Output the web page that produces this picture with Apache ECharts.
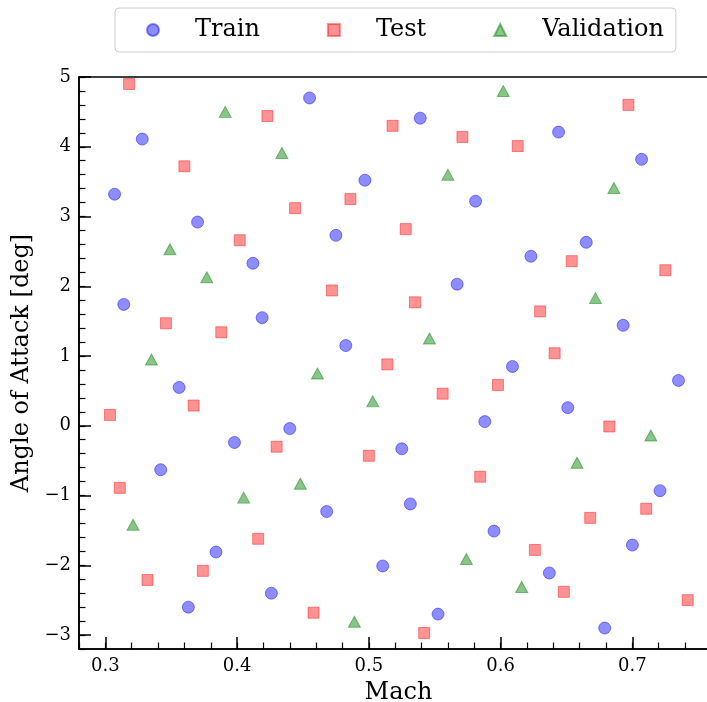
<!DOCTYPE html>
<html>
<head>
<meta charset="utf-8">
<script src="https://cdn.jsdelivr.net/npm/echarts@6/dist/echarts.min.js"></script>
<style>
  html, body { margin: 0; padding: 0; background: #ffffff; }
  #chart { width: 707px; height: 702px; }
</style>
</head>
<body>
<div id="chart"></div>
<script>
// Sample points: Mach number and angle of attack [deg]
const trainMach  = [0.455, 0.328, 0.497, 0.307, 0.370, 0.475, 0.412, 0.314, 0.419, 0.4825,
                    0.539, 0.644, 0.707, 0.581, 0.665, 0.623, 0.567, 0.693, 0.356, 0.440,
                    0.398, 0.525, 0.342, 0.468, 0.384, 0.5105, 0.426, 0.363, 0.609, 0.735,
                    0.651, 0.588, 0.721, 0.5315, 0.595, 0.700, 0.637, 0.5525, 0.679];
const trainAlpha = [4.70, 4.11, 3.52, 3.32, 2.92, 2.73, 2.33, 1.74, 1.55, 1.15,
                    4.41, 4.21, 3.82, 3.22, 2.63, 2.43, 2.03, 1.44, 0.55, -0.04,
                    -0.24, -0.33, -0.63, -1.23, -1.81, -2.01, -2.40, -2.60, 0.85, 0.65,
                    0.26, 0.06, -0.93, -1.12, -1.51, -1.71, -2.11, -2.70, -2.90];

const testMach  = [0.318, 0.423, 0.518, 0.360, 0.486, 0.444, 0.402, 0.472, 0.346, 0.388,
                   0.514, 0.697, 0.571, 0.613, 0.528, 0.654, 0.725, 0.535, 0.630, 0.641,
                   0.367, 0.3035, 0.430, 0.500, 0.311, 0.416, 0.374, 0.332, 0.458, 0.598,
                   0.556, 0.6825, 0.5845, 0.7105, 0.668, 0.626, 0.648, 0.742, 0.542];
const testAlpha = [4.90, 4.44, 4.30, 3.72, 3.25, 3.12, 2.66, 1.94, 1.47, 1.34,
                   0.88, 4.60, 4.14, 4.01, 2.82, 2.36, 2.23, 1.77, 1.64, 1.04,
                   0.29, 0.155, -0.30, -0.43, -0.89, -1.62, -2.08, -2.21, -2.68, 0.585,
                   0.46, -0.01, -0.73, -1.19, -1.32, -1.78, -2.38, -2.50, -2.97];

const valMach  = [0.391, 0.434, 0.349, 0.377, 0.335, 0.602, 0.560, 0.686, 0.672, 0.546,
                  0.461, 0.503, 0.448, 0.405, 0.321, 0.489, 0.714, 0.658, 0.574, 0.616];
const valAlpha = [4.50, 3.91, 2.53, 2.13, 0.95, 4.80, 3.60, 3.41, 1.83, 1.25,
                  0.75, 0.35, -0.83, -1.03, -1.42, -2.81, -0.14, -0.53, -1.91, -2.31];

// Axis ranges and tick positions
const xRange = [0.28, 0.765];
const yRange = [-3.2, 5];
const xMajorTicks = [0.3, 0.4, 0.5, 0.6, 0.7];
const yMajorTicks = [-3, -2, -1, 0, 1, 2, 3, 4, 5];
const xMinorStep = 0.02;
const yMinorStep = 0.2;

function stepsBetween(lo, hi, step) {
  const out = [];
  const n = Math.round((hi - lo) / step);
  for (let i = 0; i <= n; i++) out.push(Math.round((lo + i * step) * 1e6) / 1e6);
  return out;
}
const xMinorTicks = stepsBetween(xRange[0], 0.76, xMinorStep);
const yMinorTicks = stepsBetween(yRange[0], yRange[1], yMinorStep);

function zip(xs, ys) { return xs.map((x, i) => [x, ys[i]]); }

const FONT = 'DejaVu Serif';
const minusSign = v => String(v).replace('-', '\u2212');

const majorAxisCommon = (ticks, isX) => ({
  type: 'value',
  min: isX ? xRange[0] : yRange[0],
  max: isX ? xRange[1] : yRange[1],
  axisLine: { show: true, onZero: false, lineStyle: { color: '#000', width: 1.6 } },
  axisTick: { show: true, inside: true, length: 12, customValues: ticks,
              lineStyle: { color: '#000', width: 1.5 } },
  axisLabel: { show: true, customValues: ticks, margin: 8,
               fontFamily: FONT, fontSize: 18, color: '#000',
               formatter: v => minusSign(v) },
  splitLine: { show: false }
});

const minorAxisCommon = (ticks, isX) => ({
  type: 'value',
  min: isX ? xRange[0] : yRange[0],
  max: isX ? xRange[1] : yRange[1],
  axisLine: { show: false, onZero: false },
  axisTick: { show: true, inside: true, length: 6.5, customValues: ticks,
              lineStyle: { color: '#000', width: 1.2 } },
  axisLabel: { show: false },
  splitLine: { show: false }
});

const chart = echarts.init(document.getElementById('chart'), null, { renderer: 'canvas' });

chart.setOption({
  animation: false,
  backgroundColor: '#ffffff',
  grid: {
    left: 79, top: 77, bottom: 53, right: -11,
    outerBoundsMode: 'none',
    containLabel: false,
    show: true, borderColor: '#000', borderWidth: 1.6, backgroundColor: 'transparent'
  },
  legend: {
    left: 115, top: 8,
    orient: 'horizontal',
    itemWidth: 12, itemHeight: 12, itemGap: 67,
    padding: [10, 12, 10, 31],
    backgroundColor: '#ffffff',
    borderColor: '#cccccc', borderWidth: 1, borderRadius: 4,
    textStyle: { fontFamily: FONT, fontSize: 24, color: '#000', padding: [0, 0, 0, 31] },
    data: ['Train', 'Test', 'Validation']
  },
  xAxis: [
    Object.assign(majorAxisCommon(xMajorTicks, true), {
      position: 'bottom',
      name: 'Mach', nameLocation: 'middle', nameGap: 32,
      nameTextStyle: { fontFamily: FONT, fontSize: 24, color: '#000' }
    }),
    Object.assign(minorAxisCommon(xMinorTicks, true), { position: 'bottom' })
  ],
  yAxis: [
    Object.assign(majorAxisCommon(yMajorTicks, false), {
      position: 'left',
      name: 'Angle of Attack [deg]', nameLocation: 'middle', nameGap: 44, nameRotate: 90,
      nameTextStyle: { fontFamily: FONT, fontSize: 24, color: '#000' }
    }),
    Object.assign(minorAxisCommon(yMinorTicks, false), { position: 'left' })
  ],
  series: [
    {
      name: 'Train', type: 'scatter', xAxisIndex: 0, yAxisIndex: 0,
      symbol: 'circle', symbolSize: 12,
      itemStyle: { color: 'rgba(0,0,255,0.56)', borderColor: 'rgba(0,0,255,0.56)', borderWidth: 1 },
      data: zip(trainMach, trainAlpha)
    },
    {
      name: 'Test', type: 'scatter', xAxisIndex: 0, yAxisIndex: 0,
      symbol: 'rect', symbolSize: 11,
      itemStyle: { color: 'rgba(255,0,0,0.53)', borderColor: 'rgba(255,0,0,0.53)', borderWidth: 1 },
      data: zip(testMach, testAlpha)
    },
    {
      name: 'Validation', type: 'scatter', xAxisIndex: 0, yAxisIndex: 0,
      symbol: 'triangle', symbolSize: [12, 11],
      itemStyle: { color: 'rgba(0,128,0,0.58)', borderColor: 'rgba(0,128,0,0.58)', borderWidth: 1 },
      data: zip(valMach, valAlpha)
    }
  ]
});
</script>
</body>
</html>
